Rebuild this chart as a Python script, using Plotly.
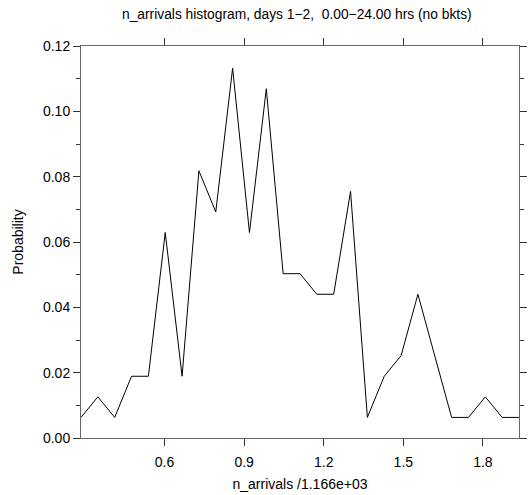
import plotly.graph_objects as go

# Bin centres, in units of n_arrivals / 1166
bin_x = [0.285, 0.3485, 0.412, 0.4755, 0.539, 0.6025, 0.666, 0.7295, 0.793,
         0.8565, 0.92, 0.9835, 1.047, 1.1105, 1.174, 1.2375, 1.301, 1.3645,
         1.428, 1.4915, 1.555, 1.6185, 1.682, 1.7455, 1.809, 1.8725, 1.936]

# Probability of each bin
prob = [0.0063, 0.0126, 0.0063, 0.0189, 0.0189, 0.0629, 0.0189, 0.0818, 0.0692,
        0.1132, 0.0629, 0.1069, 0.0503, 0.0503, 0.0440, 0.0440, 0.0755, 0.0063,
        0.0189, 0.0252, 0.0440, 0.0252, 0.0063, 0.0063, 0.0126, 0.0063, 0.0063]

x_ticks = [0.6, 0.9, 1.2, 1.5, 1.8]
y_ticks = [0.00, 0.02, 0.04, 0.06, 0.08, 0.10, 0.12]

FONT = "Liberation Sans, Arial, sans-serif"
AXIS_GREY = "#666666"

fig = go.Figure(
    go.Scatter(x=bin_x, y=prob, mode="lines",
               line=dict(color="black", width=1), showlegend=False)
)

fig.update_layout(
    width=531, height=495,
    margin=dict(l=81, r=4, t=46, b=57),
    paper_bgcolor="white", plot_bgcolor="white",
    font=dict(family=FONT, size=14, color="black"),
    title=dict(text="n_arrivals histogram, days 1\u22122,  0.00\u221224.00 hrs (no bkts)",
               font=dict(family=FONT, size=13.8, color="black"),
               x=0.559, xref="container", xanchor="center",
               y=0.971, yref="container", yanchor="middle"),
)

fig.update_xaxes(
    range=[bin_x[0], bin_x[-1]],
    tickvals=x_ticks, ticktext=[f"{v:.1f}" for v in x_ticks],
    ticks="outside", ticklen=7, tickcolor="#333333", tickwidth=1,
    ticklabelstandoff=4,
    showline=True, linecolor=AXIS_GREY, linewidth=1, mirror="ticks",
    showgrid=False, zeroline=False,
    title=dict(text="n_arrivals /1.166e+03", font=dict(size=14), standoff=10),
)

fig.update_yaxes(
    range=[0, 0.12],
    tickvals=y_ticks, ticktext=[f"{v:.2f}" for v in y_ticks],
    ticks="outside", ticklen=7, tickcolor="#333333", tickwidth=1,
    minor=dict(dtick=0.01, ticks="outside", ticklen=4, tickcolor="#333333", showgrid=False),
    showline=True, linecolor=AXIS_GREY, linewidth=1, mirror="ticks",
    showgrid=False, zeroline=False,
    title=dict(text="Probability", font=dict(size=14), standoff=16),
)

fig.write_html("out.html")
